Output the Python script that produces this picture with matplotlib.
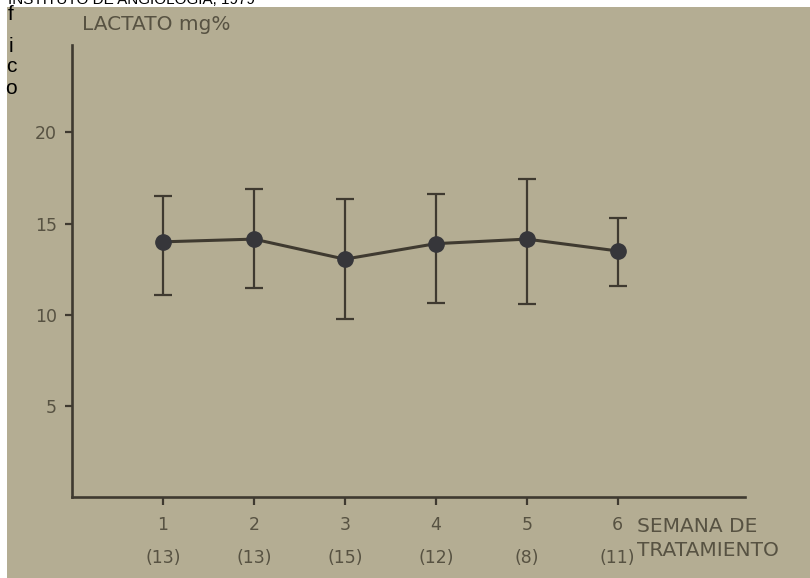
import matplotlib
matplotlib.use("Agg")
import matplotlib.pyplot as plt
from matplotlib.patches import Rectangle

# --- data ---
weeks = [1, 2, 3, 4, 5, 6]
n_cases = ["(13)", "(13)", "(15)", "(12)", "(8)", "(11)"]
lactate_mean = [14.0, 14.15, 13.05, 13.9, 14.15, 13.5]
lactate_low = [11.1, 11.45, 9.75, 10.65, 10.6, 11.6]
lactate_high = [16.5, 16.9, 16.35, 16.65, 17.45, 15.3]
y_ticks = [5, 10, 15, 20]

W, H = 810, 578
paper = "#b4ad93"
ink = "#3f3a30"
text_col = "#575242"

fig = plt.figure(figsize=(W / 100, H / 100), dpi=100, facecolor="white")

# scanned page area (white strips at top and left come from the source page)
fig.patches.append(Rectangle((7 / W, 0), 1, 1 - 7 / H, transform=fig.transFigure,
                             facecolor=paper, edgecolor="none", zorder=-10))

# axes placed in pixels: left 72, right 745, top 45, bottom 497
ax = fig.add_axes([72 / W, (H - 497) / H, (745 - 72) / W, (497 - 45) / H])
ax.set_facecolor("none")
ax.set_xlim(0.0, 7.4)
ax.set_ylim(0.0, 24.8)

for side in ["top", "right"]:
    ax.spines[side].set_visible(False)
for side in ["left", "bottom"]:
    ax.spines[side].set_color(ink)
    ax.spines[side].set_linewidth(1.9)

err_low = [m - lo for m, lo in zip(lactate_mean, lactate_low)]
err_high = [hi - m for m, hi in zip(lactate_mean, lactate_high)]
ax.errorbar(weeks, lactate_mean, yerr=[err_low, err_high], color=ink,
            linewidth=2.2, elinewidth=1.6, capsize=6.5, capthick=1.6,
            marker="o", markersize=11, markerfacecolor="#36363a",
            markeredgecolor="#36363a", zorder=3)

ax.set_yticks(y_ticks)
ax.set_yticklabels([str(v) for v in y_ticks])
ax.set_xticks(weeks)
ax.set_xticklabels([str(w) for w in weeks])
ax.tick_params(axis="y", direction="out", length=5, width=1.6, color=ink,
               pad=6, labelsize=12.5, labelcolor=text_col)
ax.tick_params(axis="x", direction="out", length=6, width=1.6, color=ink,
               pad=8, labelsize=12.5, labelcolor=text_col)

# number of cases under each week
for w, n in zip(weeks, n_cases):
    ax.text(w, -0.135, n, transform=ax.get_xaxis_transform(), ha="center",
            va="center", fontsize=12.5, color=text_col)

fig.text(82 / W, 1 - 25 / H, "LACTATO mg%", ha="left", va="center",
         fontsize=14.5, color=text_col)
fig.text(637 / W, 1 - 527 / H, "SEMANA DE", ha="left", va="center",
         fontsize=14.5, color=text_col)
fig.text(637 / W, 1 - 551 / H, "TRATAMIENTO", ha="left", va="center",
         fontsize=14.5, color=text_col)

# leftovers of the source page, partly cut off
fig.text(8 / W, 1 - 4 / H, "INSTITUTO DE ANGIOLOGIA, 1979", ha="left",
         va="baseline", fontsize=11, color="black", family="Liberation Sans")
for ch, ypix in zip(["f", "i", "c", "o"], [15, 47, 67, 89]):
    fig.text(11 / W, 1 - ypix / H, ch, ha="center", va="center",
             fontsize=15, color="black", family="Liberation Sans")

fig.savefig("out.png", dpi=100, facecolor="white")
